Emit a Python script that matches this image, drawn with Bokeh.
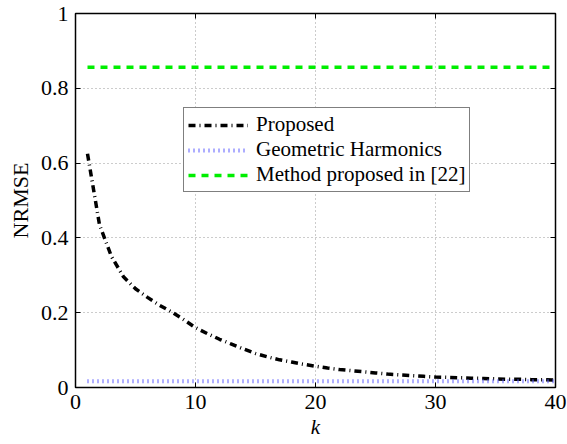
from bokeh.plotting import figure
from bokeh.models import LinearAxis, Range1d, Legend, LegendItem, FixedTicker
from bokeh.embed import file_html
from bokeh.resources import INLINE

k = list(range(1, 41))
proposed = [0.625, 0.435, 0.35, 0.296, 0.264, 0.241, 0.22, 0.202, 0.182, 0.16,
            0.144, 0.129, 0.116, 0.103, 0.091, 0.082, 0.074, 0.068, 0.062, 0.057,
            0.052, 0.048, 0.045, 0.042, 0.039, 0.036, 0.034, 0.032, 0.030, 0.028,
            0.027, 0.026, 0.025, 0.024, 0.023, 0.022, 0.022, 0.021, 0.021, 0.020]
geometric = [0.017] * 40
method22 = [0.856] * 40

x_ticks = [0, 10, 20, 30, 40]
y_ticks = [0, 0.2, 0.4, 0.6, 0.8, 1]
y_tick_labels = {0: "0", 0.2: "0.2", 0.4: "0.4", 0.6: "0.6", 0.8: "0.8", 1: "1"}

FONT = "'Liberation Serif', 'Times New Roman', serif"
FS = "22px"

p = figure(frame_width=480, frame_height=374, output_backend="svg", toolbar_location=None,
           x_range=Range1d(0, 40), y_range=Range1d(0, 1),
           min_border_left=75, min_border_right=12, min_border_top=13, min_border_bottom=57)
p.background_fill_color = "white"
p.border_fill_color = "white"
p.outline_line_color = "black"
p.outline_line_width = 1.5

r1 = p.line(k, proposed, line_color="black", line_width=3.5, line_dash="7 4 1 4")
r2 = p.line(k, geometric, line_color="#5c5cff", line_width=4, line_dash="1 4")
r3 = p.line(k, method22, line_color="#00ee00", line_width=3.5, line_dash="7 6")

for ax in (p.xaxis[0], p.yaxis[0]):
    ax.major_tick_in = 5
    ax.major_tick_out = 0
    ax.minor_tick_line_color = None
    ax.axis_line_color = "black"
    ax.major_tick_line_color = "black"
    ax.major_label_text_font = FONT
    ax.major_label_text_font_size = FS
    ax.major_label_text_color = "black"
    ax.axis_label_text_font = FONT
    ax.axis_label_text_font_size = FS
    ax.axis_label_text_color = "black"

p.xaxis[0].ticker = FixedTicker(ticks=x_ticks)
p.yaxis[0].ticker = FixedTicker(ticks=y_ticks)
p.yaxis[0].major_label_overrides = y_tick_labels
p.xaxis[0].axis_label = "k"
p.xaxis[0].axis_label_text_font_style = "italic"
p.xaxis[0].axis_label_text_font_size = "21px"
p.yaxis[0].axis_label = "NRMSE"
p.yaxis[0].axis_label_text_font_style = "normal"
p.xaxis[0].major_label_standoff = 7
p.yaxis[0].major_label_standoff = 7
p.xaxis[0].axis_label_standoff = 3
p.yaxis[0].axis_label_standoff = 5

for loc, tick in (("right", y_ticks), ("above", x_ticks)):
    ax = LinearAxis(ticker=FixedTicker(ticks=tick), major_label_text_font_size="0px",
                    major_tick_in=5, major_tick_out=0, minor_tick_line_color=None,
                    axis_line_color="black", major_label_standoff=0)
    ax.major_label_text_color = None
    p.add_layout(ax, loc)

p.xgrid.ticker = FixedTicker(ticks=x_ticks)
p.ygrid.ticker = FixedTicker(ticks=y_ticks)
for g in (p.xgrid[0], p.ygrid[0]):
    g.grid_line_color = "#999999"
    g.grid_line_dash = "1 3"
    g.grid_line_width = 1

legend = Legend(items=[LegendItem(label="Proposed", renderers=[r1]),
                       LegendItem(label="Geometric Harmonics", renderers=[r2]),
                       LegendItem(label="Method proposed in [22]", renderers=[r3])],
                location=(108, 195))
legend.label_text_font = FONT
legend.label_text_font_size = "21px"
legend.label_text_color = "black"
legend.glyph_width = 60
legend.label_standoff = 8
legend.padding = 4
legend.spacing = 0
legend.margin = 0
legend.label_height = 20
legend.glyph_height = 20
legend.border_line_color = "black"
legend.border_line_width = 1.5
legend.background_fill_alpha = 1
p.add_layout(legend, "center")

open("out.html", "w").write(file_html(p, INLINE))
